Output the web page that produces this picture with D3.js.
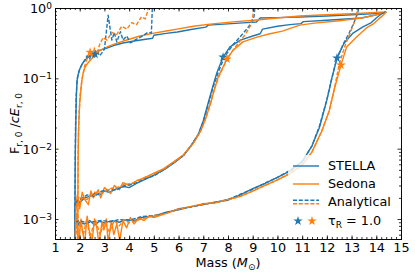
<!DOCTYPE html>
<html>
<head>
<meta charset="utf-8">
<style>
body { margin: 0; background: #fff; }
text { font-family: "DejaVu Sans", sans-serif; fill: #000; }
.axis path, .axis line { stroke: #000; stroke-width: 0.8px; }
.curve { fill: none; stroke-width: 1.4px; stroke-linejoin: round; }
</style>
<script src="https://d3js.org/d3.v7.min.js"></script>
</head>
<body>
<svg width="415" height="277"></svg>
<script>

var blue = "#1f77b4", orange = "#ff7f0e";

// [mass, F/cE]
var stella1 = [[1.80,4e-4],[1.81,0.002],[1.82,0.008],[1.84,0.02],[1.86,0.05],[1.89,0.09],[1.93,0.11],[1.97,0.125],[2.02,0.14],[2.1,0.16],[2.2,0.18],[2.35,0.2],[2.55,0.228],[2.8,0.25],[3.1,0.27],[3.4,0.295],[3.75,0.318],[4.2,0.34],[4.6,0.357],[4.95,0.372],[5.0,0.41],[5.5,0.435],[5.95,0.456],[6.5,0.495],[7.1,0.535],[7.2,0.57],[8.0,0.595],[8.6,0.615],[9.15,0.632],[9.3,0.72],[10.0,0.73],[10.9,0.745],[12,0.77],[13,0.8],[13.8,0.83],[14.3,0.86],[14.4,0.88]];
var sedona1 = [[1.92,4e-4],[1.93,0.005],[1.95,0.018],[2.0,0.045],[2.08,0.09],[2.13,0.115],[2.2,0.14],[2.3,0.16],[2.45,0.185],[2.6,0.21],[2.82,0.25],[3.2,0.29],[3.63,0.328],[4.0,0.36],[4.44,0.40],[5.0,0.44],[5.5,0.47],[5.94,0.50],[6.6,0.55],[7.27,0.59],[8.2,0.635],[9.17,0.675],[10.0,0.72],[10.9,0.77],[12,0.8],[13,0.83],[13.8,0.855],[14.4,0.88]];
var stellaAn1 = [[1.80,4e-4],[1.81,0.003],[1.83,0.02],[1.86,0.06],[1.9,0.1],[1.98,0.13],[2.1,0.16],[2.2,0.18],[2.3,0.21],[2.4,0.19],[2.5,0.23],[2.6,0.2],[2.7,0.24],[2.8,0.21],[2.9,0.23],[3.0,0.26],[3.15,0.79],[3.3,0.35],[3.4,0.45],[3.5,0.33],[3.65,0.46],[3.75,0.35],[3.9,0.4],[4.05,0.32],[4.3,0.36],[4.55,0.4],[4.75,0.45],[4.9,0.44],[4.95,1.3]];
var sedonaAn1 = [[1.92,4e-4],[1.94,0.01],[1.97,0.03],[2.02,0.06],[2.1,0.1],[2.2,0.15],[2.3,0.19],[2.4,0.24],[2.5,0.2],[2.6,0.27],[2.7,0.22],[2.8,0.3],[2.95,0.38],[3.1,0.35],[3.3,0.45],[3.5,0.42],[3.7,0.55],[3.9,0.5],[4.1,0.62],[4.3,0.58],[4.5,0.75],[4.65,0.7],[4.75,0.9],[4.8,1.3]];

var stella2 = [[1.80,4e-4],[1.81,1.6e-3],[1.9,1.9e-3],[2.0,1.7e-3],[2.2,2.0e-3],[2.4,2.1e-3],[2.6,2.3e-3],[2.8,2.2e-3],[3.0,2.5e-3],[3.2,2.4e-3],[3.5,2.7e-3],[3.8,2.9e-3],[4.0,2.8e-3],[4.3,3.2e-3],[4.6,3.6e-3],[5.0,4.2e-3],[5.4,5.0e-3],[5.8,6.2e-3],[6.2,8e-3],[6.5,0.011],[6.8,0.016],[7.0,0.025],[7.2,0.045],[7.4,0.08],[7.55,0.12],[7.8,0.2],[8.08,0.28],[8.5,0.35],[9.0,0.4],[9.3,0.43],[9.4,0.5],[10.0,0.55],[10.5,0.58],[10.95,0.6],[11.05,0.64],[12.0,0.67],[13.4,0.72],[14.0,0.8],[14.4,0.88]];
var sedona2 = [[1.82,4e-4],[1.84,1.2e-3],[1.9,2.2e-3],[2.0,1.4e-3],[2.1,2.4e-3],[2.2,1.9e-3],[2.35,1.6e-3],[2.45,2.5e-3],[2.55,2.0e-3],[2.75,2.6e-3],[2.85,2.0e-3],[3.0,2.8e-3],[3.25,2.3e-3],[3.4,3.0e-3],[3.6,2.6e-3],[3.75,3.3e-3],[4.0,3.0e-3],[4.3,3.5e-3],[4.6,3.8e-3],[5.0,4.5e-3],[5.4,5.2e-3],[5.8,6.5e-3],[6.2,8.2e-3],[6.6,0.012],[6.9,0.018],[7.1,0.027],[7.3,0.045],[7.45,0.07],[7.6,0.104],[7.96,0.188],[8.2,0.25],[8.6,0.33],[9.17,0.386],[9.7,0.43],[10.2,0.47],[10.9,0.57],[11.5,0.61],[12.5,0.66],[13.4,0.72],[14.0,0.8],[14.4,0.88]];
var stellaAn2 = [[1.82,1.7e-3],[2.0,1.9e-3],[2.3,2.2e-3],[2.6,2.1e-3],[2.9,2.5e-3],[3.2,2.6e-3],[3.5,2.6e-3],[3.8,3.0e-3],[4.1,3.1e-3],[4.4,3.4e-3],[4.7,3.8e-3],[5.0,4.1e-3],[5.4,5.0e-3],[5.8,6.3e-3],[6.2,8e-3],[6.5,0.011],[6.8,0.016],[7.0,0.024],[7.2,0.042],[7.4,0.075],[7.6,0.12],[7.85,0.2],[8.2,0.3],[8.6,0.43],[8.9,0.58],[9.05,0.75],[9.12,1.3]];
var sedonaAn2 = [[1.82,1.4e-3],[2.0,2.0e-3],[2.3,1.9e-3],[2.6,2.4e-3],[2.9,2.3e-3],[3.2,2.7e-3],[3.5,2.8e-3],[3.8,3.1e-3],[4.1,3.2e-3],[4.4,3.6e-3],[4.7,4.0e-3],[5.0,4.4e-3],[5.4,5.1e-3],[5.8,6.4e-3],[6.2,8.1e-3],[6.6,0.012],[6.9,0.018],[7.1,0.027],[7.3,0.045],[7.45,0.07],[7.65,0.11],[8.0,0.2],[8.3,0.28],[8.7,0.42],[8.9,0.55],[9.0,0.75],[9.08,1.3]];

var stella3 = [[1.82,1.0e-3],[1.9,8e-4],[2.0,9e-4],[2.2,8.5e-4],[2.4,9.5e-4],[2.6,8.2e-4],[2.8,9.3e-4],[3.0,8.8e-4],[3.3,9.5e-4],[3.6,9.0e-4],[3.9,9.8e-4],[4.2,9.5e-4],[4.5,1.05e-3],[5.0,1.1e-3],[5.5,1.25e-3],[6.0,1.35e-3],[6.5,1.5e-3],[7.0,1.6e-3],[7.5,1.75e-3],[8.0,1.85e-3],[8.5,2.2e-3],[9.0,2.7e-3],[9.5,3.2e-3],[10.0,3.9e-3],[10.5,4.8e-3],[11.0,6.5e-3],[11.4,0.011],[11.7,0.02],[12.0,0.049],[12.2,0.1],[12.41,0.194],[12.7,0.318],[13.06,0.44],[13.46,0.54],[13.8,0.62],[14.0,0.72],[14.2,0.82],[14.4,0.88]];
var sedona3 = [[1.82,6e-4],[1.88,1.2e-3],[1.95,4e-4],[2.05,1.0e-3],[2.12,6.5e-4],[2.2,4.5e-4],[2.3,1.1e-3],[2.38,7e-4],[2.5,4.8e-4],[2.6,1.0e-3],[2.68,8e-4],[2.78,4.5e-4],[2.9,9e-4],[2.98,7e-4],[3.08,1.0e-3],[3.15,4.5e-4],[3.28,9.5e-4],[3.38,6e-4],[3.5,8.5e-4],[3.62,5e-4],[3.75,9.5e-4],[3.9,7.5e-4],[4.05,1.05e-3],[4.2,8.5e-4],[4.4,1.05e-3],[4.6,9.5e-4],[4.8,1.1e-3],[5.0,1.05e-3],[5.5,1.2e-3],[6.0,1.4e-3],[6.5,1.5e-3],[7.0,1.65e-3],[7.5,1.7e-3],[8.0,1.9e-3],[8.5,2.1e-3],[9.0,2.5e-3],[9.5,3.0e-3],[10.0,3.6e-3],[10.5,4.4e-3],[11.0,5.8e-3],[11.4,9e-3],[11.8,0.018],[12.1,0.035],[12.3,0.07],[12.57,0.154],[12.8,0.28],[13.2,0.387],[13.6,0.52],[13.9,0.6],[14.1,0.7],[14.3,0.8],[14.4,0.88]];
var stellaAn3 = [[1.82,9e-4],[2.0,9.5e-4],[2.3,8.8e-4],[2.6,9.2e-4],[2.9,9.6e-4],[3.2,9.1e-4],[3.6,9.8e-4],[4.0,9.6e-4],[4.5,1.08e-3],[5.0,1.12e-3],[5.5,1.22e-3],[6.0,1.38e-3],[6.5,1.48e-3],[7.0,1.62e-3],[7.5,1.72e-3],[8.0,1.9e-3],[8.5,2.25e-3],[9.0,2.65e-3],[9.5,3.25e-3],[10.0,3.9e-3],[10.5,4.9e-3],[11.0,6.6e-3],[11.4,0.011],[11.7,0.021],[12.0,0.05],[12.2,0.1],[12.4,0.19],[12.65,0.3],[12.9,0.44],[13.1,0.62],[13.25,0.85],[13.35,1.3]];
var sedonaAn3 = [[1.82,1.0e-3],[1.92,5e-4],[2.02,9e-4],[2.15,6e-4],[2.28,1.0e-3],[2.42,5.5e-4],[2.55,8e-4],[2.65,9.5e-4],[2.82,6e-4],[3.0,9e-4],[3.2,6.5e-4],[3.4,9.5e-4],[3.6,8e-4],[3.8,9.8e-4],[4.0,8.8e-4],[4.5,1.0e-3],[5.0,1.12e-3],[5.5,1.2e-3],[6.0,1.38e-3],[6.5,1.5e-3],[7.0,1.62e-3],[7.5,1.72e-3],[8.0,1.88e-3],[8.5,2.1e-3],[9.0,2.5e-3],[9.5,3.0e-3],[10.0,3.6e-3],[10.5,4.5e-3],[11.0,5.9e-3],[11.4,9e-3],[11.8,0.018],[12.1,0.035],[12.3,0.07],[12.5,0.16],[12.75,0.3],[13.0,0.5],[13.2,0.75],[13.3,1.3]];

var starsStella = [[2.62,0.22],[7.8,0.2],[12.41,0.194]];
var starsSedona = [[2.42,0.235],[7.96,0.188],[12.57,0.154]];

var xTicks = d3.range(1, 16);
var yTicks = [1e-3, 1e-2, 1e-1, 1];
var yTickExp = ["\u22123", "\u22122", "\u22121", "0"];
var legendLabels = ["STELLA", "Sedona", "Analytical"];

var svg = d3.select("svg");
var mLeft = 55, mRight = 401, mTop = 8, mBottom = 239;
var fs = "12.8px", fsSmall = "9px";

var x = d3.scaleLinear().domain([1, 15]).range([mLeft, mRight]);
var y = d3.scaleLog().domain([5.2e-4, 1]).range([mBottom, mTop]);

svg.append("defs").append("clipPath").attr("id", "clip")
  .append("rect").attr("x", mLeft).attr("y", mTop).attr("width", mRight - mLeft).attr("height", mBottom - mTop);

var line = d3.line().x(function(d) { return x(d[0]); }).y(function(d) { return y(d[1]); });

var plot = svg.append("g").attr("clip-path", "url(#clip)");

var series = [
  [stella1, blue, null], [sedona1, orange, null], [stellaAn1, blue, "4,1.8"], [sedonaAn1, orange, "4,1.8"],
  [stella2, blue, null], [sedona2, orange, null], [stellaAn2, blue, "4,1.8"], [sedonaAn2, orange, "4,1.8"],
  [stella3, blue, null], [sedona3, orange, null], [stellaAn3, blue, "4,1.8"], [sedonaAn3, orange, "4,1.8"]
];
series.forEach(function(s) {
  plot.append("path").attr("class", "curve")
    .attr("d", line(s[0]))
    .attr("stroke", s[1])
    .attr("stroke-dasharray", s[2]);
});

var star = d3.symbol().type(d3.symbolStar).size(28);
plot.selectAll(".sb").data(starsStella).enter().append("path")
  .attr("d", star).attr("fill", blue)
  .attr("transform", function(d) { return "translate(" + x(d[0]) + "," + y(d[1]) + ")"; });
plot.selectAll(".so").data(starsSedona).enter().append("path")
  .attr("d", star).attr("fill", orange)
  .attr("transform", function(d) { return "translate(" + x(d[0]) + "," + y(d[1]) + ")"; });

// axes, ticks pointing in
var xMinor = d3.range(1, 15.001, 0.2);
var yMinor = [];
[-4, -3, -2, -1].forEach(function(e) {
  for (var k = 2; k < 10; k++) { var v = k * Math.pow(10, e); if (v > 5.2e-4 && v < 1) yMinor.push(v); }
});

function noLabel() { return ""; }
svg.append("g").attr("class", "axis").attr("transform", "translate(0," + mBottom + ")")
  .call(d3.axisBottom(x).tickValues(xMinor).tickSize(-2).tickFormat(noLabel));
svg.append("g").attr("class", "axis").attr("transform", "translate(0," + mTop + ")")
  .call(d3.axisTop(x).tickValues(xMinor).tickSize(-2).tickFormat(noLabel));
svg.append("g").attr("class", "axis").attr("transform", "translate(" + mLeft + ",0)")
  .call(d3.axisLeft(y).tickValues(yMinor).tickSize(-2).tickFormat(noLabel));
svg.append("g").attr("class", "axis").attr("transform", "translate(" + mRight + ",0)")
  .call(d3.axisRight(y).tickValues(yMinor).tickSize(-2).tickFormat(noLabel));

var xAxis = svg.append("g").attr("class", "axis").attr("transform", "translate(0," + mBottom + ")")
  .call(d3.axisBottom(x).tickValues(xTicks).tickSize(-3.5).tickPadding(3.5).tickFormat(d3.format("d")));
xAxis.selectAll("text").style("font-size", fs).style("font-family", "DejaVu Sans");
svg.append("g").attr("class", "axis").attr("transform", "translate(0," + mTop + ")")
  .call(d3.axisTop(x).tickValues(xTicks).tickSize(-3.5).tickFormat(noLabel));

var yAxis = svg.append("g").attr("class", "axis").attr("transform", "translate(" + mLeft + ",0)")
  .call(d3.axisLeft(y).tickValues(yTicks).tickSize(-3.5).tickPadding(5).tickFormat(noLabel));
yAxis.selectAll(".tick text").each(function(d, i) {
  var t = d3.select(this).attr("dy", "0.35em").attr("x", -3).style("font-size", fs).style("font-family", "DejaVu Sans");
  t.append("tspan").text("10");
  t.append("tspan").attr("dy", "-0.45em").style("font-size", fsSmall).text(yTickExp[i]);
});
svg.append("g").attr("class", "axis").attr("transform", "translate(" + mRight + ",0)")
  .call(d3.axisRight(y).tickValues(yTicks).tickSize(-3.5).tickFormat(noLabel));

// axis labels
var xl = svg.append("text").attr("x", (mLeft + mRight) / 2).attr("y", 267)
  .attr("text-anchor", "middle").style("font-size", fs);
xl.append("tspan").text("Mass (");
xl.append("tspan").style("font-style", "italic").text("M");
xl.append("tspan").attr("dy", "2.5").style("font-size", fsSmall).text("\u2299");
xl.append("tspan").attr("dy", "-2.5").text(")");

var yl = svg.append("text").attr("transform", "translate(19," + ((mTop + mBottom) / 2) + ") rotate(-90)")
  .attr("text-anchor", "middle").style("font-size", fs);
yl.append("tspan").text("F");
yl.append("tspan").attr("dy", "2.5").style("font-size", fsSmall).text("r, 0");
yl.append("tspan").attr("dy", "-2.5").text(" /");
yl.append("tspan").style("font-style", "italic").text("cE");
yl.append("tspan").attr("dy", "2.5").style("font-size", fsSmall).text("r, 0");

// legend
var lg = svg.append("g");
lg.append("rect").attr("x", 288).attr("y", 155).attr("width", 109).attr("height", 77)
  .attr("fill", "#fff").attr("opacity", 0.8);
var ly = [166, 184, 202, 221];
lg.append("line").attr("x1", 293).attr("x2", 319).attr("y1", ly[0]).attr("y2", ly[0]).attr("stroke", blue).attr("stroke-width", 1.4);
lg.append("line").attr("x1", 293).attr("x2", 319).attr("y1", ly[1]).attr("y2", ly[1]).attr("stroke", orange).attr("stroke-width", 1.4);
lg.append("line").attr("x1", 293).attr("x2", 319).attr("y1", ly[2] - 1.8).attr("y2", ly[2] - 1.8).attr("stroke", blue).attr("stroke-width", 1.4).attr("stroke-dasharray", "4,1.8");
lg.append("line").attr("x1", 293).attr("x2", 319).attr("y1", ly[2] + 1.8).attr("y2", ly[2] + 1.8).attr("stroke", orange).attr("stroke-width", 1.4).attr("stroke-dasharray", "4,1.8");
lg.append("path").attr("d", star).attr("fill", blue).attr("transform", "translate(298," + ly[3] + ")");
lg.append("path").attr("d", star).attr("fill", orange).attr("transform", "translate(312," + ly[3] + ")");
legendLabels.forEach(function(l, i) {
  lg.append("text").attr("x", 328).attr("y", ly[i]).attr("dy", "0.35em").style("font-size", fs).text(l);
});
var tl = lg.append("text").attr("x", 328).attr("y", ly[3]).attr("dy", "0.35em").style("font-size", fs);
tl.append("tspan").text("\u03c4");
tl.append("tspan").attr("dy", "2.5").style("font-size", fsSmall).text("R");
tl.append("tspan").attr("dy", "-2.5").text(" = 1.0");

</script>
</body>
</html>
